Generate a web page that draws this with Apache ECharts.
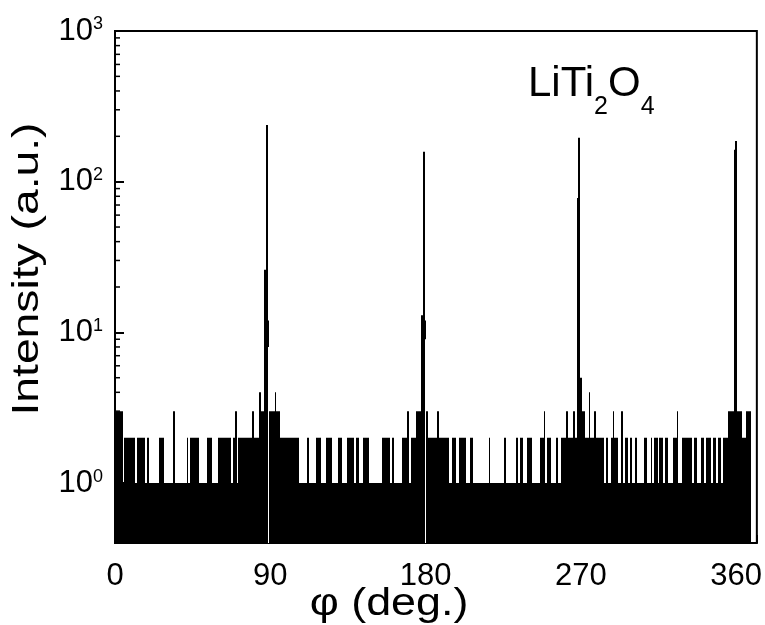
<!DOCTYPE html>
<html><head><meta charset="utf-8">
<script src="https://cdn.jsdelivr.net/npm/echarts@6/dist/echarts.min.js"></script>
<style>html,body{margin:0;padding:0;background:#fff}#c{width:765px;height:625px}</style>
</head><body><div id="c"></div>
<script>
// phi-scan of LiTi2O4: counts per degree, starting at phi = 0
const phiStart = 0;
const phiStep = 1;
const intensity = [
  3,3,3,3,3,1,2,2,2,2,      // 0-9
  2,2,1,2,2,2,2,2,1,2,      // 10-19
  1,1,1,1,1,1,2,2,2,1,      // 20-29
  1,1,1,1,3,1,1,1,1,1,      // 30-39
  1,1,2,1,2,2,2,2,2,1,      // 40-49
  1,1,1,1,2,2,2,1,1,1,      // 50-59
  2,2,2,2,2,2,2,2,1,2,      // 60-69
  3,1,2,2,2,2,2,2,2,2,      // 70-79
  3,2,2,2,4,3,3,26,238,12,  // 80-89
  3,3,3,4,3,3,2,2,2,2,      // 90-99
  2,2,2,2,2,2,2,1,1,1,      // 100-109
  1,1,2,1,1,1,1,2,2,2,      // 110-119
  1,1,1,2,2,2,1,1,1,1,      // 120-129
  2,2,1,1,1,2,2,2,2,1,      // 130-139
  2,2,1,1,2,2,2,2,1,1,      // 140-149
  1,1,1,1,1,2,2,2,2,2,      // 150-159
  1,2,1,1,1,1,1,2,2,2,      // 160-169
  3,1,2,2,2,3,3,3,13,158,   // 170-179
  12,3,2,2,2,2,2,3,2,2,     // 180-189
  2,2,2,2,1,1,2,2,1,1,      // 190-199
  2,2,2,2,1,1,2,2,1,1,      // 200-209
  1,1,1,1,1,1,1,2,1,1,      // 210-219
  1,1,1,1,1,1,2,1,1,1,      // 220-229
  1,1,1,2,1,2,2,1,1,2,      // 230-239
  2,2,1,1,1,1,1,2,2,3,      // 240-249
  1,2,2,1,1,1,2,1,1,2,      // 250-259
  2,2,3,2,2,2,3,2,78,196,   // 260-269
  5,3,3,2,2,4,2,2,3,2,      // 270-279
  2,2,2,2,1,2,1,1,2,3,      // 280-289
  2,2,1,1,3,1,2,2,1,2,      // 290-299
  1,1,2,1,1,1,1,2,2,1,      // 300-309
  1,2,1,2,2,1,2,2,1,2,      // 310-319
  2,1,1,1,2,2,3,1,1,2,      // 320-329
  2,2,2,2,2,1,2,2,1,1,      // 330-339
  2,2,1,2,2,2,1,2,2,1,      // 340-349
  2,2,1,2,2,2,3,3,3,163,    // 350-359
  186,3,3,3,2,2,3,3,3       // 360-368
];
// zero-count dips (white gaps under the peaks): position and top value
const dipPhi = [88.6, 179.9];
const dipTop = [8, 9];
const xTicks = [0, 90, 180, 270, 360];
const xMin = 0, xMax = 372, yMin = 0.4, yMax = 1000;

const histData = intensity.map((v, i) => [phiStart + i * phiStep, v]);
const dipData = dipPhi.map((p, i) => [p, dipTop[i]]);
const minorVals = [];
for (let k = -1; k <= 2; k++) for (let m = 2; m <= 9; m++) {
  const v = m * Math.pow(10, k);
  if (v > yMin && v < yMax) minorVals.push([xMin, v]);
}
const FONT = "'Liberation Sans', Arial, sans-serif";

const series = [{
  // histogram steps: each count fills its 1-degree bin down to the axis bottom
  type: 'custom', data: histData, z: 2, silent: true,
  renderItem: function (params, api) {
    const x = api.value(0), v = api.value(1);
    const lo = Math.max(xMin, x - phiStep / 2), hi = Math.min(xMax, x + phiStep / 2);
    const pTop = api.coord([lo, v]);
    const pBot = api.coord([hi, yMin]);
    const x0 = Math.round(pTop[0]), x1 = Math.round(pBot[0]);
    return { type: 'rect',
      shape: { x: x0, y: pTop[1], width: Math.max(1, x1 - x0), height: pBot[1] - pTop[1] },
      style: { fill: '#000' } };
  }
}, {
  // white zero-count gaps below the main peaks
  type: 'custom', data: dipData, z: 3, silent: true,
  renderItem: function (params, api) {
    const pTop = api.coord([api.value(0), api.value(1)]);
    const pBot = api.coord([api.value(0), yMin]);
    const x0 = Math.round(pTop[0]);
    return { type: 'rect', shape: { x: x0, y: pTop[1], width: 1, height: pBot[1] - pTop[1] },
      style: { fill: '#fff' } };
  }
}, {
  type: 'custom', data: minorVals, z: 5, silent: true,
  renderItem: function (params, api) {
    const p = api.coord([api.value(0), api.value(1)]);
    return { type: 'line', shape: { x1: p[0], y1: p[1], x2: p[0] + 5, y2: p[1] },
      style: { stroke: '#000', lineWidth: 1.5 } };
  }
}];

const chart = echarts.init(document.getElementById('c'), null, { renderer: 'canvas' });
chart.setOption({
  animation: false,
  backgroundColor: '#fff',
  grid: { left: 115, top: 31, right: 8, bottom: 82, show: true, borderColor: '#000', borderWidth: 2, backgroundColor: 'transparent' },
  xAxis: {
    type: 'value', min: xMin, max: xMax, interval: 90,
    axisLine: { show: false }, splitLine: { show: false },
    axisTick: { show: true, inside: true, length: 8, lineStyle: { color: '#000', width: 2 } },
    axisLabel: { margin: 18, color: '#000', fontSize: 31, fontFamily: FONT,
      formatter: v => xTicks.indexOf(v) >= 0 ? String(v) : '' }
  },
  yAxis: {
    type: 'log', min: yMin, max: yMax, logBase: 10,
    axisLine: { show: false }, splitLine: { show: false },
    axisTick: { show: true, inside: true, length: 9, lineStyle: { color: '#000', width: 2 } },
    minorTick: { show: false },
    axisLabel: {
      margin: 12, color: '#000', fontFamily: FONT,
      formatter: v => {
        const e = Math.round(Math.log10(v));
        if (Math.abs(Math.pow(10, e) - v) > 1e-9) return '';
        return '{b|10}{s|' + e + '}';
      },
      rich: {
        b: { fontSize: 31, lineHeight: 31, verticalAlign: 'bottom', fontFamily: FONT, color: '#000' },
        s: { fontSize: 18, lineHeight: 12, verticalAlign: 'top', fontFamily: FONT, color: '#000' }
      }
    }
  },
  series: series,
  graphic: [
    { type: 'text', x: 28, y: 269, rotation: Math.PI / 2, scaleX: 1.25, z: 10,
      style: { text: 'Intensity (a.u.)', fontSize: 37, fontFamily: FONT, fill: '#000', align: 'center', verticalAlign: 'middle' } },
    { type: 'text', x: 389, y: 604, scaleX: 1.15, z: 10,
      style: { text: 'φ (deg.)', fontSize: 39, fontFamily: FONT, fill: '#000', align: 'center', verticalAlign: 'middle' } },
    { type: 'text', x: 528, y: 63, z: 10,
      style: { text: '{m|LiTi}{d|2}{m|O}{d|4}', fontFamily: FONT, fill: '#000', align: 'left', verticalAlign: 'top',
        rich: {
          m: { fontSize: 42, lineHeight: 42, verticalAlign: 'top', fontFamily: FONT, fill: '#000' },
          d: { fontSize: 25, lineHeight: 57, verticalAlign: 'bottom', fontFamily: FONT, fill: '#000' }
        } } }
  ]
});
</script></body></html>
